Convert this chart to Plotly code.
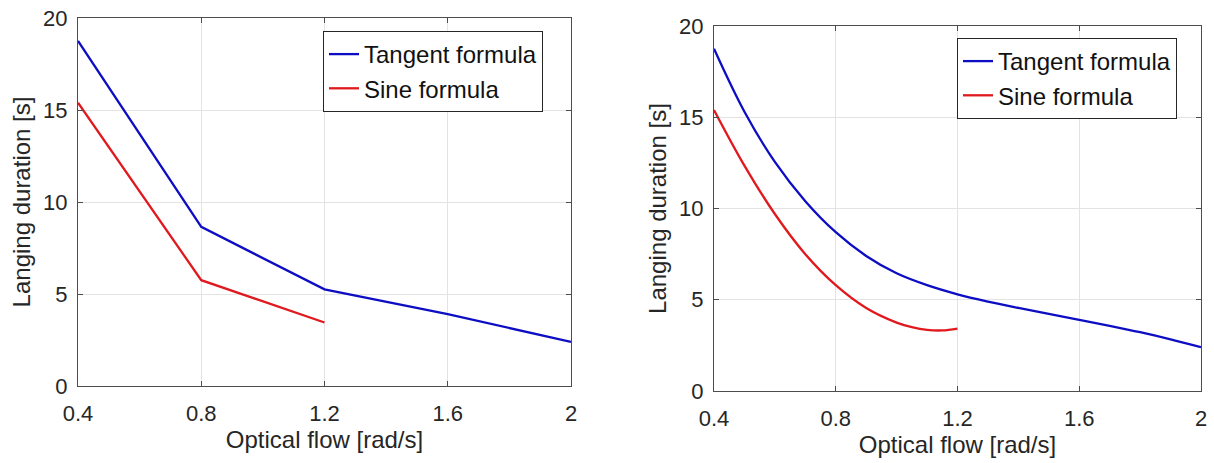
import plotly.graph_objects as go
from plotly.subplots import make_subplots

# ---- data ----
flow_coarse = [0.4, 0.8, 1.2, 1.6, 2.0]
tangent_coarse = [18.75, 8.65, 5.25, 3.9, 2.4]
flow_sine_coarse = [0.4, 0.8, 1.2]
sine_coarse = [15.4, 5.75, 3.45]

flow_fine = [0.4, 0.5, 0.6, 0.7, 0.8, 0.9, 1.0, 1.1, 1.2, 1.3, 1.4, 1.5, 1.6, 1.7, 1.8, 1.9, 2.0]
tangent_fine = [18.75, 15.3, 12.55, 10.4, 8.7, 7.4, 6.45, 5.8, 5.3, 4.9, 4.55, 4.22, 3.9, 3.57, 3.22, 2.83, 2.4]
flow_sine_fine = [0.4, 0.5, 0.6, 0.7, 0.8, 0.9, 1.0, 1.05, 1.1, 1.15, 1.2]
sine_fine = [15.4, 12.35, 9.7, 7.5, 5.8, 4.55, 3.75, 3.5, 3.35, 3.32, 3.42]

x_ticks = [0.4, 0.8, 1.2, 1.6, 2.0]
x_tick_text = ["0.4", "0.8", "1.2", "1.6", "2"]
y_ticks = [0, 5, 10, 15, 20]

BLUE = "#0d0dc4"
RED = "#e0191f"
FONT = "Liberation Sans, Arial, sans-serif"
TXT = "#262626"

fig = make_subplots(rows=1, cols=2)

fig.add_trace(go.Scatter(x=flow_coarse, y=tangent_coarse, mode="lines", name="Tangent formula",
                         line=dict(color=BLUE, width=2.3), legend="legend"), row=1, col=1)
fig.add_trace(go.Scatter(x=flow_sine_coarse, y=sine_coarse, mode="lines", name="Sine formula",
                         line=dict(color=RED, width=2.3), legend="legend"), row=1, col=1)
fig.add_trace(go.Scatter(x=flow_fine, y=tangent_fine, mode="lines", name="Tangent formula",
                         line=dict(color=BLUE, width=2.3, shape="spline"), legend="legend2"), row=1, col=2)
fig.add_trace(go.Scatter(x=flow_sine_fine, y=sine_fine, mode="lines", name="Sine formula",
                         line=dict(color=RED, width=2.3, shape="spline"), legend="legend2"), row=1, col=2)

W, H = 1214, 463

def dom_x(a, b):
    return [a / W, b / W]

def dom_y(top, bottom):
    return [1 - bottom / H, 1 - top / H]

axis_common = dict(
    showline=True, linecolor="#4d4d4d", linewidth=1, mirror="ticks",
    ticks="inside", ticklen=5, tickcolor="#4d4d4d", automargin=False,
    showgrid=True, gridcolor="#e3e3e3", gridwidth=1, zeroline=False,
    tickfont=dict(family=FONT, size=22, color=TXT),
)

fig.update_xaxes(**axis_common, range=[0.4, 2.0], tickvals=x_ticks, ticktext=x_tick_text,
                 ticklabelstandoff=8,
                 title=dict(text="Optical flow [rad/s]", font=dict(family=FONT, size=24, color=TXT), standoff=5))
fig.update_yaxes(**axis_common, range=[0, 20], tickvals=y_ticks, ticklabelstandoff=5,
                 title=dict(text="Langing duration [s]", font=dict(family=FONT, size=24, color=TXT), standoff=5))

fig.update_layout(
    width=W, height=H,
    margin=dict(l=0, r=0, t=0, b=0, autoexpand=False),
    paper_bgcolor="white", plot_bgcolor="white",
    xaxis=dict(domain=dom_x(78, 571)),
    yaxis=dict(domain=dom_y(18, 386)),
    xaxis2=dict(domain=dom_x(714, 1201)),
    yaxis2=dict(domain=dom_y(26, 391)),
    legend=dict(x=323 / W, y=1 - 31 / H, xanchor="left", yanchor="top",
                bgcolor="white", bordercolor="#262626", borderwidth=1,
                font=dict(family=FONT, size=24, color="#111111"), tracegroupgap=0),
    legend2=dict(x=957 / W, y=1 - 38 / H, xanchor="left", yanchor="top",
                 bgcolor="white", bordercolor="#262626", borderwidth=1,
                 font=dict(family=FONT, size=24, color="#111111"), tracegroupgap=0),
    showlegend=True,
)

fig.write_html("out.html")
